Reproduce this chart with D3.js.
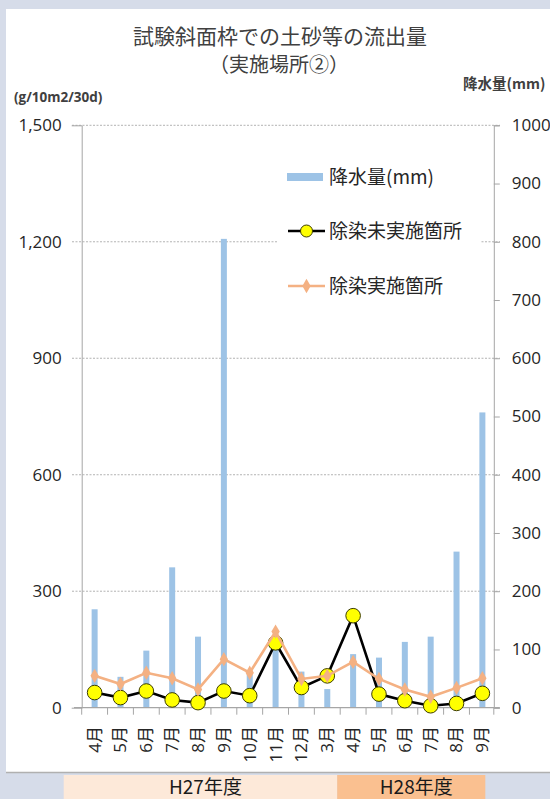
<!DOCTYPE html>
<html>
<head>
<meta charset="utf-8">
<script src="https://cdn.jsdelivr.net/npm/d3@7"></script>
<style>
  body { margin: 0; background: #d6dce9; }
  svg { display: block; }
</style>
</head>
<body>
<svg id="chart" width="550" height="799"></svg>
<script>
// months on the x axis (H27: 4月-3月, H28: 4月-9月)
const months = ["4月", "5月", "6月", "7月", "8月", "9月", "10月", "11月", "12月", "3月",
                "4月", "5月", "6月", "7月", "8月", "9月"];
// precipitation (mm), right axis
const rain = [169, 53, 98, 241, 122, 805, 59, 108, 62, 32, 92, 86, 113, 122, 268, 507];
// sediment outflow (g/10m2/30d), left axis
const untreated = [39, 26, 43, 20, 13, 43, 31, 167, 52, 82, 237, 35, 18, 5, 11, 37];
const treated = [82, 61, 90, 76, 47, 125, 90, 196, 74, 82, 118, 74, 47, 28, 51, 76];

const leftTicks = [0, 300, 600, 900, 1200, 1500];
const rightTicks = [0, 100, 200, 300, 400, 500, 600, 700, 800, 900, 1000];
const years = ["H27年度", "H28年度"];
const yearStart = [0, 10]; // index of first month of each fiscal year

const barColor = "#9dc3e6";
const orange = "#f4b183";
const axisColor = "#a6a6a6";
const numFont = "'Open Sans', 'Noto Sans CJK JP', sans-serif";
const jpFont = "'Noto Sans CJK JP', sans-serif";

const svg = d3.select("#chart");

// slide background + white panel
svg.append("rect").attr("width", 550).attr("height", 799).attr("fill", "#d6dce9");
svg.append("rect").attr("x", 6).attr("y", 9).attr("width", 544).attr("height", 763)
    .attr("fill", "#fff");
svg.append("line").attr("x1", 6).attr("x2", 550).attr("y1", 772.5).attr("y2", 772.5)
    .attr("stroke", "#b0b0b0").attr("stroke-width", 1.5);

const plotLeft = 81.7, plotRight = 493.8, y0 = 707.7, yTop = 125.3;

const x = d3.scaleBand().domain(d3.range(months.length)).range([plotLeft, plotRight + 1.5]);
const yL = d3.scaleLinear().domain([0, 1500]).range([y0, yTop]);
const yR = d3.scaleLinear().domain([0, 1000]).range([y0, yTop]);
const cx = i => x(i) + x.bandwidth() / 2;

// title
svg.append("text").attr("x", 280).attr("y", 44).attr("text-anchor", "middle")
    .attr("font-family", jpFont).attr("font-size", 21).attr("fill", "#404040")
    .text("試験斜面枠での土砂等の流出量");
svg.append("text").attr("x", 279).attr("y", 72).attr("text-anchor", "middle")
    .attr("font-family", jpFont).attr("font-size", 20).attr("fill", "#404040")
    .text("（実施場所②）");

// axis titles
svg.append("text").attr("x", 14).attr("y", 102).attr("font-family", numFont)
    .attr("font-size", 13.5).attr("font-weight", "bold").attr("fill", "#404040")
    .text("(g/10m2/30d)");
svg.append("text").attr("x", 463).attr("y", 89).attr("font-family", jpFont)
    .attr("font-size", 14.5).attr("font-weight", "bold").attr("fill", "#404040")
    .text("降水量(mm)");

// gridlines (left axis ticks)
svg.append("g").selectAll("line").data(leftTicks.filter(d => d > 0)).join("line")
    .attr("x1", 72).attr("x2", 500)
    .attr("y1", d => yL(d)).attr("y2", d => yL(d))
    .attr("stroke", "#a0a0a0").attr("stroke-width", 0.8).attr("stroke-dasharray", "2,1.5");

// left axis
const gL = svg.append("g").attr("transform", `translate(${plotLeft},0)`)
    .call(d3.axisLeft(yL).tickValues(leftTicks).tickSize(10).tickPadding(10)
        .tickFormat(d3.format(",")));
gL.select(".domain").attr("stroke", axisColor);
gL.selectAll(".tick line").attr("stroke", "none");
gL.selectAll("text").attr("font-family", numFont).attr("font-size", 17).attr("fill", "#262626");

// right axis
const gR = svg.append("g").attr("transform", `translate(${plotRight},0)`)
    .call(d3.axisRight(yR).tickValues(rightTicks).tickSize(6).tickPadding(12)
        .tickFormat(d3.format("d")));
gR.select(".domain").attr("stroke", axisColor);
gR.selectAll(".tick line").attr("stroke", axisColor);
gR.selectAll("text").attr("font-family", numFont).attr("font-size", 17).attr("fill", "#262626");

// bars (precipitation)
svg.append("g").selectAll("rect").data(rain).join("rect")
    .attr("x", (d, i) => cx(i) - 3).attr("width", 6)
    .attr("y", d => yR(d)).attr("height", d => y0 - yR(d))
    .attr("fill", barColor);

// x axis baseline and ticks at band boundaries
svg.append("line").attr("x1", 74).attr("x2", plotRight + 6).attr("y1", y0).attr("y2", y0)
    .attr("stroke", axisColor).attr("stroke-width", 1.2);
const bounds = d3.range(months.length).map(i => x(i)).concat([x.range()[1] - 1.5]);
svg.append("g").selectAll("line").data(bounds).join("line")
    .attr("x1", d => d).attr("x2", d => d).attr("y1", y0).attr("y2", y0 + 7)
    .attr("stroke", axisColor);

// x labels, rotated
svg.append("g").selectAll("text").data(months).join("text")
    .attr("transform", (d, i) => `translate(${cx(i)},726) rotate(-90)`)
    .attr("text-anchor", "end").attr("dy", "0.35em")
    .attr("font-family", numFont).attr("font-size", 17).attr("fill", "#262626")
    .text(d => d);

// untreated: black line with yellow circles
const lineL = d3.line().x((d, i) => cx(i)).y(d => yL(d));
svg.append("path").datum(untreated).attr("d", lineL)
    .attr("fill", "none").attr("stroke", "#000").attr("stroke-width", 2.6);
svg.append("g").selectAll("circle").data(untreated).join("circle")
    .attr("cx", (d, i) => cx(i)).attr("cy", d => yL(d)).attr("r", 7.3)
    .attr("fill", "#ffff00").attr("stroke", "#3d3d00").attr("stroke-width", 1);

// treated: orange line with diamonds
svg.append("path").datum(treated).attr("d", lineL)
    .attr("fill", "none").attr("stroke", orange).attr("stroke-width", 2.6);
const diamond = d3.symbol().type(d3.symbolDiamond).size(60);
svg.append("g").selectAll("path").data(treated).join("path")
    .attr("transform", (d, i) => `translate(${cx(i)},${yL(d)})`)
    .attr("d", diamond).attr("fill", orange);

// legend
const lg = svg.append("g");
lg.append("rect").attr("x", 277).attr("y", 158).attr("width", 203).attr("height", 146)
    .attr("fill", "#fff");
const legendItems = ["降水量(mm)", "除染未実施箇所", "除染実施箇所"];
const legendY = [177, 231, 286];
lg.append("rect").attr("x", 287).attr("y", legendY[0] - 4).attr("width", 36).attr("height", 8)
    .attr("fill", barColor);
lg.append("line").attr("x1", 288).attr("x2", 325).attr("y1", legendY[1]).attr("y2", legendY[1])
    .attr("stroke", "#000").attr("stroke-width", 2.6);
lg.append("circle").attr("cx", 306.5).attr("cy", legendY[1]).attr("r", 6)
    .attr("fill", "#ffff00").attr("stroke", "#3d3d00");
lg.append("line").attr("x1", 288).attr("x2", 325).attr("y1", legendY[2]).attr("y2", legendY[2])
    .attr("stroke", orange).attr("stroke-width", 2.6);
lg.append("path").attr("transform", `translate(306.5,${legendY[2]})`).attr("d", diamond)
    .attr("fill", orange);
lg.selectAll("text").data(legendItems).join("text")
    .attr("x", 329).attr("y", (d, i) => legendY[i]).attr("dy", "0.36em")
    .attr("font-family", jpFont).attr("font-size", 19).attr("fill", "#262626")
    .text(d => d);

// fiscal year bands under the chart
const bandX = [x(yearStart[0]) - 18, x(yearStart[1]) - 3, x.range()[1] - 10];
const bandFill = ["#fde9d9", "#fac090"];
years.forEach((yname, k) => {
  svg.append("rect").attr("x", bandX[k]).attr("y", 775)
      .attr("width", bandX[k + 1] - bandX[k]).attr("height", 24).attr("fill", bandFill[k]);
  svg.append("text").attr("x", (bandX[k] + bandX[k + 1]) / 2 + 5).attr("y", 787)
      .attr("dy", "0.35em").attr("text-anchor", "middle")
      .attr("font-family", jpFont).attr("font-size", 19)
      .attr("fill", "#1a1a1a").text(yname);
});
</script>
</body>
</html>
